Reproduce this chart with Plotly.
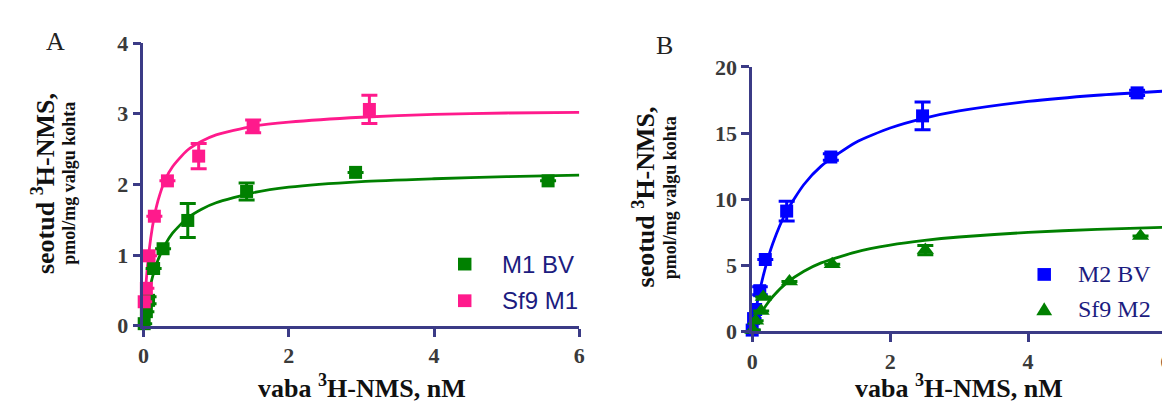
import plotly.graph_objects as go

# ---------------- data ----------------
# Panel A
m1bv_x = [0.01, 0.04, 0.07, 0.14, 0.27, 0.61, 1.42, 2.92, 5.57]
m1bv_y = [0.03, 0.20, 0.36, 0.81, 1.09, 1.49, 1.90, 2.17, 2.05]
m1bv_err = [0, 0, 0.05, 0, 0, 0.24, 0.12, 0, 0]

sf9m1_x = [0.01, 0.04, 0.077, 0.15, 0.33, 0.76, 1.51, 3.11]
sf9m1_y = [0.34, 0.53, 0.99, 1.55, 2.05, 2.40, 2.82, 3.06]
sf9m1_err = [0, 0, 0, 0, 0, 0.18, 0.09, 0.20]

# fitted curves, panel A
fitA_x = [0, 0.025, 0.05, 0.1, 0.15, 0.2, 0.3, 0.4, 0.6, 0.8, 1.0, 1.5, 2, 3, 4, 5, 6]
fit_m1bv_y = [0, 0.18, 0.34, 0.59, 0.78, 0.93, 1.15, 1.31, 1.52, 1.65, 1.74, 1.88, 1.96, 2.04, 2.08, 2.11, 2.13]
fit_sf9m1_y = [0, 0.44, 0.78, 1.24, 1.55, 1.77, 2.07, 2.25, 2.48, 2.61, 2.70, 2.82, 2.88, 2.95, 2.99, 3.01, 3.02]

# Panel B
m2bv_x = [0.0, 0.02, 0.05, 0.11, 0.19, 0.50, 1.14, 2.47, 5.58]
m2bv_y = [0.1, 0.97, 1.66, 3.08, 5.44, 9.10, 13.19, 16.30, 18.04]
m2bv_err = [0, 0, 0, 0.3, 0, 0.75, 0.25, 1.05, 0.2]

sf9m2_x = [0.01, 0.05, 0.13, 0.16, 0.54, 1.16, 2.51, 5.63]
sf9m2_y = [0.10, 0.80, 1.54, 2.60, 3.78, 5.08, 6.15, 7.21]
sf9m2_err = [0, 0, 0, 0, 0, 0, 0.35, 0]

fitB_x = [0, 0.05, 0.1, 0.2, 0.3, 0.5, 0.75, 1, 1.5, 2, 2.5, 3, 4, 5, 6]
fit_m2bv_y = [0, 1.54, 2.86, 5.00, 6.67, 9.09, 11.11, 12.50, 14.29, 15.38, 16.13, 16.67, 17.39, 17.86, 18.18]
fit_sf9m2_y = [0, 0.59, 1.10, 1.96, 2.64, 3.67, 4.55, 5.18, 6.00, 6.52, 6.88, 7.14, 7.49, 7.72, 7.88]

x_ticks = [0, 2, 4, 6]
yA_ticks = [0, 1, 2, 3, 4]
yB_ticks = [0, 5, 10, 15, 20]

legendA_names = ["M1 BV", "Sf9 M1"]
legendB_names = ["M2 BV", "Sf9 M2"]

# ---------------- styles ----------------
GREEN = "#008000"
PINK = "#ff1a8c"
BLUE = "#0000ff"
AXIS = "#3b3b86"
TICKTXT = "#3a3a3a"
NAVY = "#1c1c80"
SERIF = "Liberation Serif"
W, H = 1170, 409


def px_x(p):
    return p / W


def px_y(p):
    return (H - p) / H


fig = go.Figure()


def data_trace(x, y, err, color, symbol, name, xa, ya):
    return go.Scatter(
        x=x, y=y, mode="markers", name=name, showlegend=False,
        marker=dict(color=color, symbol=symbol, size=13 if symbol == "square" else 15,
                    line=dict(width=0)),
        error_y=dict(type="data", array=err, visible=True, color=color,
                     thickness=3, width=8),
        xaxis=xa, yaxis=ya, cliponaxis=False,
    )


def fit_trace(x, y, color, xa, ya):
    return go.Scatter(
        x=x, y=y, mode="lines", line=dict(color=color, width=2.8, shape="spline", smoothing=0.6),
        xaxis=xa, yaxis=ya, showlegend=False, hoverinfo="skip", cliponaxis=False,
    )


fig.add_trace(fit_trace(fitA_x, fit_m1bv_y, GREEN, "x", "y"))
fig.add_trace(fit_trace(fitA_x, fit_sf9m1_y, PINK, "x", "y"))
fig.add_trace(data_trace(m1bv_x, m1bv_y, m1bv_err, GREEN, "square", legendA_names[0], "x", "y"))
fig.add_trace(data_trace(sf9m1_x, sf9m1_y, sf9m1_err, PINK, "square", legendA_names[1], "x", "y"))

fig.add_trace(fit_trace(fitB_x, fit_m2bv_y, BLUE, "x2", "y2"))
fig.add_trace(fit_trace(fitB_x, fit_sf9m2_y, GREEN, "x2", "y2"))
fig.add_trace(data_trace(m2bv_x, m2bv_y, m2bv_err, BLUE, "square", legendB_names[0], "x2", "y2"))
fig.add_trace(data_trace(sf9m2_x, sf9m2_y, sf9m2_err, GREEN, "triangle-up", legendB_names[1], "x2", "y2"))

axis_common = dict(
    showline=True, linecolor=AXIS, linewidth=2.6, showgrid=False, zeroline=False,
    ticks="outside", ticklen=8, tickwidth=2.6, tickcolor=AXIS,
    tickfont=dict(family=SERIF, size=22, color=TICKTXT, weight="bold"),
    ticklabeloverflow="allow",
)

fig.update_layout(
    width=W, height=H, margin=dict(l=0, r=0, t=0, b=0),
    paper_bgcolor="white", plot_bgcolor="white", showlegend=False,
    xaxis=dict(domain=[px_x(131.7), px_x(571.7)], range=[0, 6], tickvals=x_ticks,
               anchor="y", **axis_common),
    yaxis=dict(domain=[px_y(325.7), px_y(24.5)], range=[0, 4], tickvals=yA_ticks,
               anchor="x", **axis_common),
    xaxis2=dict(domain=[px_x(746.2), px_x(1164)], range=[0, 6], tickvals=x_ticks,
                anchor="y2", **axis_common),
    yaxis2=dict(domain=[px_y(331.7), px_y(50)], range=[0, 20], tickvals=yB_ticks,
                anchor="x2", **axis_common),
)

ann = []
# panel letters
ann.append(dict(text="A", x=px_x(43), y=px_y(23), font=dict(family=SERIF, size=26, color="#222")))
ann.append(dict(text="B", x=px_x(658), y=px_y(27), font=dict(family=SERIF, size=26, color="#222")))
# x titles
for cx in (352, 955):
    ann.append(dict(text="vaba <sup>3</sup>H-NMS, nM", x=px_x(cx), y=px_y(390),
                    font=dict(family=SERIF, size=26, color="#111", weight="bold")))
# y titles
for cx1, cx2, cy in ((31, 57, 174), (637, 664, 189)):
    ann.append(dict(text="seotud <sup>3</sup>H-NMS,", x=px_x(cx1), y=px_y(cy), textangle=-90,
                    font=dict(family=SERIF, size=26, color="#111", weight="bold")))
    ann.append(dict(text="pmol/mg valgu kohta", x=px_x(cx2), y=px_y(cy), textangle=-90,
                    font=dict(family=SERIF, size=18, color="#111", weight="bold")))

# legends (symbol sample + label)
shapes = []
legend_items = [
    (legendA_names[0], GREEN, "square", 456, 260, 492, "Liberation Sans"),
    (legendA_names[1], PINK, "square", 456, 299, 492, "Liberation Sans"),
    (legendB_names[0], BLUE, "square", 1041, 271, 1073, SERIF),
    (legendB_names[1], GREEN, "triangle", 1041, 308, 1073, SERIF),
]
for name, color, sym, mx, my, tx, fam in legend_items:
    if sym == "square":
        s = 6.8
        shapes.append(dict(type="rect", xref="paper", yref="paper",
                           x0=px_x(mx - s), x1=px_x(mx + s), y0=px_y(my + s), y1=px_y(my - s),
                           fillcolor=color, line=dict(width=0)))
    else:
        path = "M {} {} L {} {} L {} {} Z".format(
            px_x(mx - 8), px_y(my + 6.5), px_x(mx + 8), px_y(my + 6.5), px_x(mx), px_y(my - 7.5))
        shapes.append(dict(type="path", xref="paper", yref="paper", path=path,
                           fillcolor=color, line=dict(width=0)))
    ann.append(dict(text=name, x=px_x(tx), y=px_y(my), xanchor="left",
                    font=dict(family=fam, size=24, color=NAVY)))

for a in ann:
    a.setdefault("xanchor", "center")
    a.update(xref="paper", yref="paper", showarrow=False, yanchor="middle")
fig.update_layout(annotations=ann, shapes=shapes)

fig.write_html("out.html")
